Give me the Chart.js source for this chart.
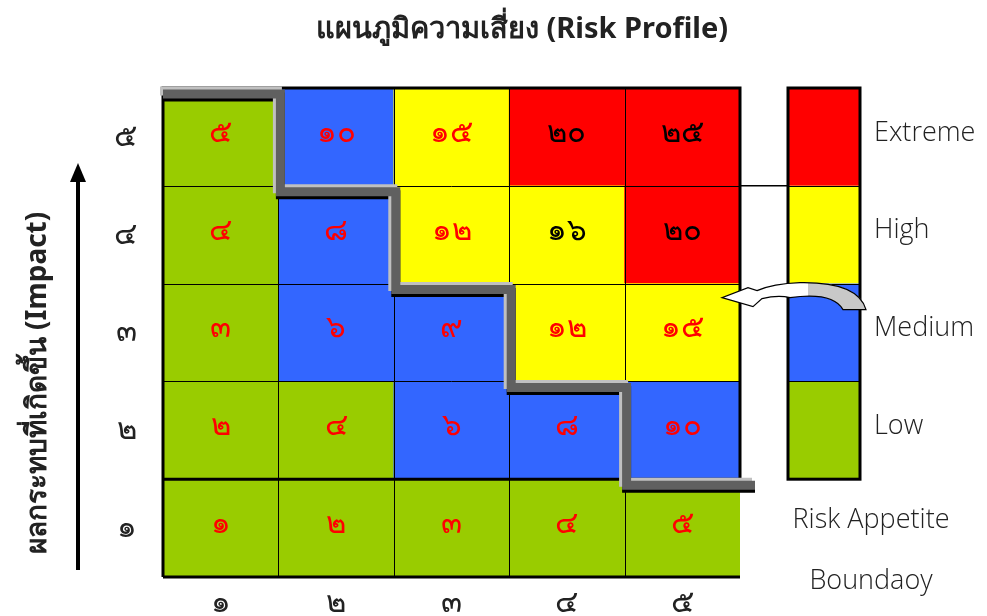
<!DOCTYPE html>
<html>
<head>
<meta charset="utf-8">
<script src="https://cdn.jsdelivr.net/npm/chart.js@4.4.0/dist/chart.umd.min.js"></script>
<style>
    html, body { margin: 0; padding: 0; background: #fff; }
    #wrap { width: 987px; height: 616px; }
</style>
</head>
<body>
<div id="wrap"><canvas id="riskChart" width="987" height="616"></canvas></div>
<script>
// Axes (โอกาสเกิด = colonnes, ผลกระทบ = lignes, du bas vers le haut)
var likelihoodLabels = ['๑', '๒', '๓', '๔', '๕'];
var impactLabels = ['๑', '๒', '๓', '๔', '๕'];

// Scores de chaque case, ligne par ligne (impact 1 -> 5)
var scoreRow1 = [1, 2, 3, 4, 5];
var scoreRow2 = [2, 4, 6, 8, 10];
var scoreRow3 = [3, 6, 9, 12, 15];
var scoreRow4 = [4, 8, 12, 16, 20];
var scoreRow5 = [5, 10, 15, 20, 25];

// Niveau de risque de chaque case (L = Low, M = Medium, H = High, E = Extreme)
var levelRow1 = ['L', 'L', 'L', 'L', 'L'];
var levelRow2 = ['L', 'L', 'M', 'M', 'M'];
var levelRow3 = ['L', 'M', 'M', 'H', 'H'];
var levelRow4 = ['L', 'M', 'H', 'H', 'E'];
var levelRow5 = ['L', 'M', 'H', 'E', 'E'];

// Frontière Risk Appetite : nombre de colonnes "acceptées" par ligne (impact 5 -> 1)
var appetiteSteps = [1, 2, 3, 4, 5];

// Légende
var legendLevels = ['E', 'H', 'M', 'L'];
var legendLabels = ['Extreme', 'High', 'Medium', 'Low'];

var chartTitle = 'แผนภูมิความเสี่ยง (Risk Profile)';
var yTitle = 'ผลกระทบที่เกิดขึ้น (Impact)';
var boundaryLabel = ['Risk Appetite', 'Boundaoy'];

var scoreRows = [scoreRow1, scoreRow2, scoreRow3, scoreRow4, scoreRow5];
var levelRows = [levelRow1, levelRow2, levelRow3, levelRow4, levelRow5];

var levelColors = { L: '#99CC00', M: '#3366FF', H: '#FFFF00', E: '#FF0000' };
var thaiFont = '"Noto Sans", "DejaVu Sans", sans-serif';

function toThai(n) {
    var digits = '๐๑๒๓๔๕๖๗๘๙';
    return String(n).replace(/[0-9]/g, function(d) { return digits[d]; });
}

// Texte noir sur les cases rouges et sur la case 16
function labelColor(row, col) {
    if (levelRows[row][col] === 'E' || scoreRows[row][col] === 16) return '#000000';
    return '#FF0000';
}

var datasets = scoreRows.map(function(row, r) {
    return {
        label: 'Impact ' + (r + 1),
        data: row.map(function() { return 1; }),
        backgroundColor: levelRows[r].map(function(l) { return levelColors[l]; }),
        borderWidth: 0,
        barPercentage: 1,
        categoryPercentage: 1
    };
});

var riskPlugin = {
    id: 'riskPlugin',
    afterDatasetsDraw: function(chart) {
        var ctx = chart.ctx;
        var a = chart.chartArea;
        var xs = chart.scales.x;
        var ys = chart.scales.y;

        // bords des colonnes
        var xb = [a.left];
        for (var i = 1; i < 5; i++) {
            xb.push((xs.getPixelForValue(i - 1) + xs.getPixelForValue(i)) / 2);
        }
        xb.push(a.right);

        ctx.save();
        // grille fine
        ctx.strokeStyle = '#000';
        ctx.lineWidth = 1;
        ctx.beginPath();
        for (var i = 1; i < 5; i++) {
            ctx.moveTo(Math.round(xb[i]) + 0.5, a.top);
            ctx.lineTo(Math.round(xb[i]) + 0.5, a.bottom);
        }
        for (var v = 2; v < 5; v++) {
            var yy = Math.round(ys.getPixelForValue(v)) + 0.5;
            ctx.moveTo(a.left, yy);
            ctx.lineTo(a.right, yy);
        }
        ctx.stroke();

        // bordures épaisses
        ctx.lineWidth = 3;
        ctx.beginPath();
        ctx.moveTo(a.left, a.bottom);
        ctx.lineTo(a.left, a.top);
        ctx.lineTo(a.right, a.top);
        ctx.lineTo(a.right, ys.getPixelForValue(1));
        ctx.moveTo(a.left, ys.getPixelForValue(1));
        ctx.lineTo(a.right, ys.getPixelForValue(1));
        ctx.moveTo(a.left, a.bottom);
        ctx.lineTo(a.right, a.bottom);
        ctx.stroke();

        // valeurs dans les cases
        ctx.font = '300 31px ' + thaiFont;
        ctx.textAlign = 'center';
        ctx.textBaseline = 'middle';
        chart.data.datasets.forEach(function(ds, r) {
            var meta = chart.getDatasetMeta(r);
            meta.data.forEach(function(el, c) {
                ctx.fillStyle = labelColor(r, c);
                ctx.fillText(toThai(scoreRows[r][c]), el.x, (el.y + el.base) / 2 - 4);
            });
        });

        // frontière Risk Appetite en escalier
        var pts = [];
        appetiteSteps.forEach(function(n, k) {
            var y = ys.getPixelForValue(5 - k) + 6;
            if (k === 0) pts.push([a.left, y]);
            else pts.push([xb[n - 1] + 2, y]);
            if (k < 4) pts.push([xb[n] + 2, y]);
            else pts.push([a.right + 15, y]);
            if (k < 4) pts.push([xb[n] + 2, ys.getPixelForValue(4 - k) + 6]);
        });
        function stair(dx, dy, color) {
            ctx.strokeStyle = color;
            ctx.lineWidth = 9;
            ctx.lineJoin = 'miter';
            ctx.lineCap = 'butt';
            ctx.beginPath();
            pts.forEach(function(p, i) {
                if (i === 0) ctx.moveTo(p[0] + dx, p[1] + dy);
                else ctx.lineTo(p[0] + dx, p[1] + dy);
            });
            ctx.stroke();
        }
        stair(0, 3, '#000000');
        stair(-3, -3, '#C0C0C0');
        stair(0, 0, '#606060');

        // trait de liaison vers la légende
        var lx = a.right + 48, lw = 72;
        ctx.strokeStyle = '#000';
        ctx.lineWidth = 1.5;
        ctx.beginPath();
        ctx.moveTo(a.right, ys.getPixelForValue(4));
        ctx.lineTo(lx, ys.getPixelForValue(4));
        ctx.stroke();

        // légende
        legendLevels.forEach(function(l, k) {
            var y0 = ys.getPixelForValue(5 - k), y1 = ys.getPixelForValue(4 - k);
            ctx.fillStyle = levelColors[l];
            ctx.fillRect(lx, y0, lw, y1 - y0);
            ctx.fillStyle = '#222';
            ctx.font = '300 27px "Open Sans", sans-serif';
            ctx.textAlign = 'left';
            ctx.textBaseline = 'middle';
            ctx.fillText(legendLabels[k], lx + 86, (y0 + y1) / 2 - 4);
        });
        ctx.strokeStyle = '#000';
        ctx.lineWidth = 1;
        ctx.beginPath();
        for (var v = 2; v < 5; v++) {
            var yy = Math.round(ys.getPixelForValue(v)) + 0.5;
            ctx.moveTo(lx, yy);
            ctx.lineTo(lx + lw, yy);
        }
        ctx.stroke();
        ctx.lineWidth = 3;
        ctx.strokeRect(lx, ys.getPixelForValue(5), lw, ys.getPixelForValue(1) - ys.getPixelForValue(5));

        ctx.fillStyle = '#222';
        ctx.textAlign = 'center';
        ctx.fillText(boundaryLabel[0], lx + 83, ys.getPixelForValue(0.5) - 8);
        ctx.fillText(boundaryLabel[1], lx + 83, a.bottom + 4);

        // flèche courbe
        var ay = ys.getPixelForValue(3);
        function arrowPath() {
            ctx.beginPath();
            ctx.moveTo(lx + 78, ay + 26);
            ctx.quadraticCurveTo(lx + 70, ay - 2, lx + 12, ay - 1);
            ctx.quadraticCurveTo(lx - 15, ay, lx - 31, ay + 7);
            ctx.lineTo(lx - 40, ay + 4);
            ctx.lineTo(lx - 66, ay + 14);
            ctx.lineTo(lx - 35, ay + 23);
            ctx.lineTo(lx - 26, ay + 15);
            ctx.quadraticCurveTo(lx - 10, ay + 11, lx + 2, ay + 14);
            ctx.quadraticCurveTo(lx + 45, ay + 8, lx + 55, ay + 26);
            ctx.closePath();
        }
        arrowPath();
        ctx.fillStyle = '#fff';
        ctx.fill();
        ctx.save();
        ctx.beginPath();
        ctx.rect(lx + 20, ay - 20, 100, 60);
        ctx.clip();
        arrowPath();
        ctx.fillStyle = '#C8C8C8';
        ctx.fill();
        ctx.restore();
        arrowPath();
        ctx.strokeStyle = '#000';
        ctx.lineWidth = 1.2;
        ctx.stroke();

        // flèche verticale de l'axe Impact
        ctx.fillStyle = '#000';
        ctx.fillRect(76, 180, 4, a.bottom - 7 - 180);
        ctx.beginPath();
        ctx.moveTo(78, 163);
        ctx.lineTo(86, 182);
        ctx.lineTo(70, 182);
        ctx.closePath();
        ctx.fill();

        // titre de l'axe Y
        ctx.save();
        ctx.translate(38, 383);
        ctx.rotate(-Math.PI / 2);
        ctx.font = 'bold 28px ' + thaiFont;
        ctx.fillStyle = '#222';
        ctx.textAlign = 'center';
        ctx.textBaseline = 'middle';
        ctx.fillText(yTitle, 0, 0);
        ctx.restore();

        // titre principal
        ctx.font = 'bold 29px ' + thaiFont;
        ctx.fillStyle = '#222';
        ctx.textAlign = 'center';
        ctx.textBaseline = 'middle';
        ctx.fillText(chartTitle, 522, 30);

        ctx.restore();
    }
};

var chart = new Chart(document.getElementById('riskChart').getContext('2d'), {
    type: 'bar',
    data: {
        labels: likelihoodLabels,
        datasets: datasets
    },
    options: {
        responsive: false,
        animation: false,
        devicePixelRatio: 1,
        layout: { padding: { top: 88, right: 247, left: 0, bottom: 0 } },
        plugins: {
            legend: { display: false },
            title: { display: false },
            tooltip: { enabled: false }
        },
        scales: {
            x: {
                stacked: true,
                grid: { display: false, drawTicks: false },
                border: { display: false },
                ticks: { color: '#222', font: { size: 31, weight: 300, family: thaiFont }, padding: 8 },
                afterFit: function(s) { s.height = 39; }
            },
            y: {
                stacked: true,
                min: 0,
                max: 5,
                grid: { display: false, drawTicks: false },
                border: { display: false },
                afterBuildTicks: function(s) {
                    s.ticks = [0.5, 1.5, 2.5, 3.5, 4.5].map(function(v) { return { value: v }; });
                },
                ticks: {
                    color: '#222',
                    font: { size: 31, weight: 300, family: thaiFont },
                    padding: 26,
                    callback: function(v) { return impactLabels[Math.floor(v)]; }
                },
                afterFit: function(s) {
                    s.width = 163;
                    s.paddingTop = 0;
                    s.paddingBottom = 0;
                }
            }
        }
    },
    plugins: [riskPlugin]
});
</script>
</body>
</html>
